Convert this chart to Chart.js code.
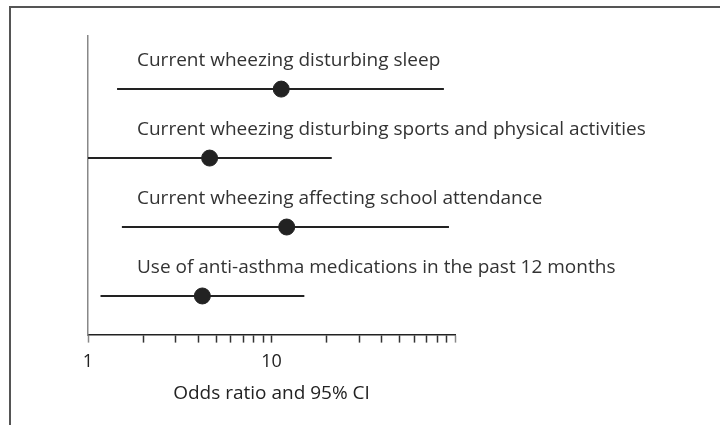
<!DOCTYPE html>
<html>
<head>
<meta charset="utf-8">
<script src="https://cdn.jsdelivr.net/npm/chart.js@4/dist/chart.umd.min.js"></script>
<style>
  html, body { margin: 0; padding: 0; background: #fff; }
  #wrap { position: relative; width: 720px; height: 425px; overflow: hidden; }
  #frame { position: absolute; left: 9px; top: 6px; width: 720px; height: 430px;
           border-top: 2px solid #555; border-left: 2px solid #555; }
  canvas { position: absolute; left: 0; top: 0; }
</style>
</head>
<body>
<div id="wrap">
  <div id="frame"></div>
  <canvas id="chart" width="720" height="425"></canvas>
</div>
<script>
// --- Data ---
const LABELS = [
  'Current wheezing disturbing sleep',
  'Current wheezing disturbing sports and physical activities',
  'Current wheezing affecting school attendance',
  'Use of anti-asthma medications in the past 12 months'
];
const ROWS = [4, 3, 2, 1];            // vertical position of each row
const ODDS = [11.3, 4.6, 12.1, 4.2];
const CI_LOW = [1.44, 1.0, 1.53, 1.17];
const CI_HIGH = [87, 21.3, 92.7, 15.1];
const TICK_LABELS = [1, 10];
const AXIS_TITLE = 'Odds ratio and 95% CI';

const FONT = "'Open Sans', 'Noto Sans', sans-serif";
const INK = '#222';

// one line dataset per confidence interval
const ciSets = ROWS.map((r, i) => ({
  type: 'line',
  data: [{x: CI_LOW[i], y: r}, {x: CI_HIGH[i], y: r}],
  borderColor: INK,
  borderWidth: 2,
  pointRadius: 0,
  fill: false,
}));

const pointSet = {
  type: 'scatter',
  data: ROWS.map((r, i) => ({x: ODDS[i], y: r})),
  backgroundColor: INK,
  borderColor: INK,
  pointRadius: 8,
  pointHoverRadius: 8,
};

// --- row captions above each interval ---
const captionPlugin = {
  id: 'captions',
  afterDatasetsDraw(chart) {
    const {ctx, scales, chartArea} = chart;
    ctx.save();
    ctx.fillStyle = '#333';
    ctx.font = '19px ' + FONT;
    ctx.textBaseline = 'alphabetic';
    ctx.textAlign = 'left';
    ROWS.forEach((r, i) => {
      const y = scales.y.getPixelForValue(r) - 23;
      ctx.fillText(LABELS[i], chartArea.left + 49, y);
    });
    ctx.restore();
  }
};

new Chart(document.getElementById('chart'), {
  data: { datasets: [...ciSets, pointSet] },
  options: {
    responsive: false,
    animation: false,
    plugins: { legend: { display: false }, tooltip: { enabled: false } },
    layout: { padding: { left: 80, right: 265, top: 36, bottom: 16 } },
    scales: {
      x: {
        type: 'logarithmic',
        min: 1,
        max: 100,
        border: { display: true, color: INK, width: 1.5 },
        grid: {
          drawOnChartArea: false,
          tickLength: 8,
          tickWidth: 1.5,
          tickColor: (c) => (c.tick && (c.tick.value === 1 || c.tick.value === 100)) ? '#888' : '#333',
        },
        ticks: {
          color: '#222',
          font: { size: 18, family: FONT },
          padding: 8,
          autoSkip: false,
          maxRotation: 0,
          callback: (v) => TICK_LABELS.includes(v) ? String(v) : '',
        },
        title: {
          display: true,
          text: AXIS_TITLE,
          color: '#222',
          font: { size: 19, family: FONT },
          padding: { top: 2, bottom: 4 },
        },
        afterBuildTicks(axis) {
          const t = [];
          [1, 10].forEach(d => { for (let k = 1; k < 10; k++) t.push({value: d * k}); });
          t.push({value: 100});
          axis.ticks = t;
        },
      },
      y: {
        type: 'linear',
        min: 0.44,
        max: 4.77,
        border: { display: true, color: '#888', width: 1.5 },
        grid: { display: false },
        ticks: { display: false },
      }
    }
  },
  plugins: [captionPlugin]
});
</script>
</body>
</html>
